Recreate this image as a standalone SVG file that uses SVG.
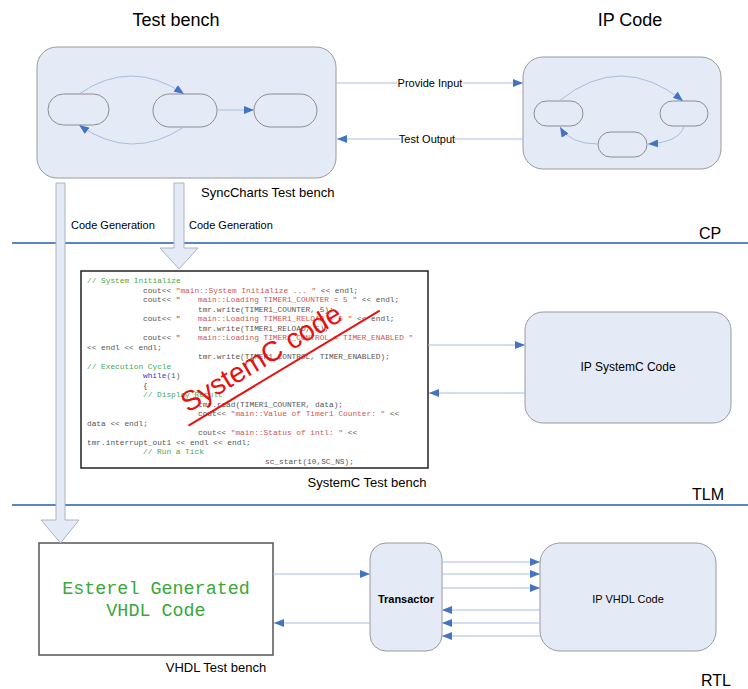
<svg xmlns="http://www.w3.org/2000/svg" width="748" height="689" viewBox="0 0 748 689">
<defs>
<style>
.t{font-family:"Liberation Sans",Arial,sans-serif;fill:#000}
.box{fill:#e5ebf6;stroke:#9a9a9a;stroke-width:1}
.st{fill:#e5ebf6;stroke:#8c8c8c;stroke-width:1}
.con{fill:none;stroke:#a6bde3;stroke-width:1}
.sep{stroke:#5a86c4;stroke-width:2}
.big{fill:#e5ebf6;stroke:#a9b3c4;stroke-width:1}
.code{font-family:"Liberation Mono","Courier New",monospace;font-size:7.8px;fill:#555}
.c{fill:#4aa84a}
.s{fill:#cf5555}
.k{fill:#3535c8}
</style>
<marker id="ar" markerWidth="10" markerHeight="8" refX="10" refY="4" orient="auto" markerUnits="userSpaceOnUse">
<path d="M0,0 L10,4 L0,8 Z" fill="#4573c4"/>
</marker>
</defs>
<rect width="748" height="689" fill="#fff"/>

<g id="separators">
<line class="sep" x1="12" y1="243" x2="748" y2="243"/>
<line class="sep" x1="12" y1="505" x2="748" y2="505"/>
</g>

<text class="t" x="176" y="26" font-size="18" text-anchor="middle">Test bench</text>
<text class="t" x="630" y="26" font-size="18" text-anchor="middle">IP Code</text>
<text class="t" x="710" y="239" font-size="16" text-anchor="middle">CP</text>
<text class="t" x="708" y="500" font-size="16" text-anchor="middle">TLM</text>
<text class="t" x="716" y="686" font-size="16" text-anchor="middle">RTL</text>

<g id="testbench">
<rect class="box" x="37" y="47" width="299" height="131" rx="20"/>
<rect class="st" x="48" y="94" width="61" height="31" rx="15.5"/>
<rect class="st" x="153" y="94" width="64" height="33" rx="16.5"/>
<rect class="st" x="254" y="94" width="63" height="33" rx="16.5"/>
<path class="con" d="M79,94 Q131,58 184,94" marker-end="url(#ar)"/>
<path class="con" d="M184,127 Q131,162 79,125" marker-end="url(#ar)"/>
<path class="con" d="M217,110 L254,110" marker-end="url(#ar)"/>
<text class="t" x="201" y="197" font-size="13">SyncCharts Test bench</text>
</g>

<g id="ipcode">
<rect class="box" x="523" y="57" width="198" height="112" rx="20"/>
<rect class="st" x="534" y="101" width="49" height="25" rx="12.5"/>
<rect class="st" x="660" y="101" width="48" height="25" rx="12.5"/>
<rect class="st" x="598" y="132" width="49" height="25" rx="12.5"/>
<path class="con" d="M559,101 Q621,51 683,101" marker-end="url(#ar)"/>
<path class="con" d="M684,126 Q680,142 648,144" marker-end="url(#ar)"/>
<path class="con" d="M598,144 Q570,144 560,127" marker-end="url(#ar)"/>
</g>

<g id="systemc-testbench">
<rect x="81" y="271" width="347" height="197" fill="#fff" stroke="#222" stroke-width="1.5"/>
<text class="code" x="87" y="283"><tspan class="c">// System Initialize</tspan></text>
<text class="code" x="143" y="292.5">cout&lt;&lt; <tspan class="s">"main::System Initialize ... "</tspan> &lt;&lt; endl;</text>
<text class="code" x="143" y="302">cout&lt;&lt; "<tspan x="198" class="s">main::Loading TIMER1_COUNTER = 5 "</tspan> &lt;&lt; endl;</text>
<text class="code" x="198" y="311.5">tmr.write(TIMER1_COUNTER, 5);</text>
<text class="code" x="143" y="321">cout&lt;&lt; "<tspan x="198" class="s">main::Loading TIMER1_RELOAD = 5 "</tspan> &lt;&lt; endl;</text>
<text class="code" x="198" y="330.5">tmr.write(TIMER1_RELOAD, 5);</text>
<text class="code" x="143" y="340">cout&lt;&lt; "<tspan x="198" class="s">main::Loading TIMER1_CONTROL = TIMER_ENABLED "</tspan></text>
<text class="code" x="87" y="349.5">&lt;&lt; endl &lt;&lt; endl;</text>
<text class="code" x="198" y="359">tmr.write(TIMER1_CONTROL, TIMER_ENABLED);</text>
<text class="code" x="87" y="368.5"><tspan class="c">// Execution Cycle</tspan></text>
<text class="code" x="143" y="378"><tspan class="k">while</tspan>(1)</text>
<text class="code" x="143" y="387.5">{</text>
<text class="code" x="143" y="397"><tspan class="c">// Display Result</tspan></text>
<text class="code" x="198" y="406.5">tmr.read(TIMER1_COUNTER, data);</text>
<text class="code" x="198" y="416">cout&lt;&lt; <tspan class="s">"main::Value of Timer1 Counter: "</tspan> &lt;&lt;</text>
<text class="code" x="87" y="425.5">data &lt;&lt; endl;</text>
<text class="code" x="198" y="435">cout&lt;&lt; <tspan class="s">"main::Status of intl: "</tspan> &lt;&lt;</text>
<text class="code" x="87" y="444.5">tmr.interrupt_out1 &lt;&lt; endl &lt;&lt; endl;</text>
<text class="code" x="143" y="454"><tspan class="c">// Run a Tick</tspan></text>
<text class="code" x="265" y="463.5">sc_start(10,SC_NS);</text>
<g transform="rotate(-31 188 413)">
<text x="188" y="413" font-family="'Liberation Sans',Arial,sans-serif" font-size="28" fill="#e81010">SystemC code</text>
<line x1="182" y1="424" x2="405" y2="424" stroke="#e81010" stroke-width="2"/>
</g>
<text class="t" x="367" y="487" font-size="13" text-anchor="middle">SystemC Test bench</text>
</g>

<g id="ip-systemc">
<rect class="box" x="525" y="312" width="206" height="111" rx="18"/>
<text class="t" x="628" y="371" font-size="12" text-anchor="middle">IP SystemC Code</text>
</g>

<g id="vhdl-testbench">
<rect x="39" y="543" width="234" height="112" fill="#fff" stroke="#555" stroke-width="1.5"/>
<text x="156" y="594" font-family="'Liberation Mono','Courier New',monospace" font-size="18.4" fill="#3aa83a" text-anchor="middle">Esterel Generated</text>
<text x="156" y="616" font-family="'Liberation Mono','Courier New',monospace" font-size="18.4" fill="#3aa83a" text-anchor="middle">VHDL Code</text>
<text class="t" x="216" y="672" font-size="13" text-anchor="middle">VHDL Test bench</text>
</g>

<g id="transactor">
<rect class="box" x="370" y="543" width="72" height="108" rx="16"/>
<text class="t" x="406" y="603" font-size="11" font-weight="bold" text-anchor="middle">Transactor</text>
</g>

<g id="ip-vhdl">
<rect class="box" x="540" y="543" width="176" height="108" rx="20"/>
<text class="t" x="628" y="603" font-size="11" text-anchor="middle">IP VHDL Code</text>
</g>

<g id="connectors">
<line class="con" x1="336" y1="83" x2="523" y2="83" marker-end="url(#ar)"/>
<line class="con" x1="523" y1="139" x2="337" y2="139" marker-end="url(#ar)"/>
<rect x="397" y="76" width="66" height="14" fill="#fff"/>
<text class="t" x="430" y="87" font-size="11" text-anchor="middle">Provide Input</text>
<rect x="400" y="132" width="54" height="14" fill="#fff"/>
<text class="t" x="427" y="143" font-size="11" text-anchor="middle">Test Output</text>
<line class="con" x1="428" y1="345" x2="525" y2="345" marker-end="url(#ar)"/>
<line class="con" x1="525" y1="393" x2="429" y2="393" marker-end="url(#ar)"/>
<line class="con" x1="273" y1="574" x2="370" y2="574" marker-end="url(#ar)"/>
<line class="con" x1="370" y1="623" x2="274" y2="623" marker-end="url(#ar)"/>
<line class="con" x1="442" y1="562" x2="540" y2="562" marker-end="url(#ar)"/>
<line class="con" x1="442" y1="574" x2="540" y2="574" marker-end="url(#ar)"/>
<line class="con" x1="442" y1="588" x2="540" y2="588" marker-end="url(#ar)"/>
<line class="con" x1="540" y1="610" x2="442" y2="610" marker-end="url(#ar)"/>
<line class="con" x1="540" y1="623" x2="442" y2="623" marker-end="url(#ar)"/>
<line class="con" x1="540" y1="636" x2="442" y2="636" marker-end="url(#ar)"/>
<path class="big" d="M56,183 L65,183 L65,520 L79,520 L60.5,543 L41,520 L56,520 Z"/>
<path class="big" d="M174,183 L184,183 L184,248 L198,248 L179,269 L160,248 L174,248 Z"/>
<text class="t" x="71" y="229" font-size="11">Code Generation</text>
<text class="t" x="189" y="229" font-size="11">Code Generation</text>
</g>
</svg>
